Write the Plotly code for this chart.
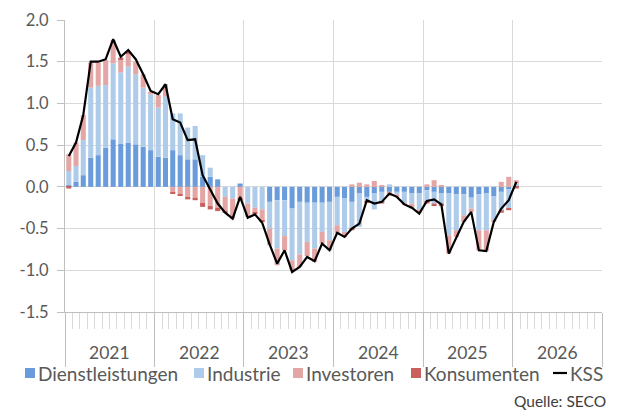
import plotly.graph_objects as go

# ---------------- data ----------------
months = [f"{y}-{m:02d}" for y in range(2021, 2026) for m in range(1, 13)] + ["2026-01"]

dienstleistungen = [
    0.02, 0.06, 0.14, 0.35, 0.38, 0.47, 0.57, 0.52, 0.53, 0.51, 0.48, 0.44,
    0.36, 0.35, 0.44, 0.38, 0.33, 0.33, 0.12, 0.12, 0.09, 0.00, 0.00, 0.04,
    0.00, 0.00, 0.00, -0.18, -0.16, -0.16, -0.26, -0.18, -0.19, -0.19, -0.19, -0.18,
    -0.12, -0.14, -0.18, -0.08, -0.12, -0.08, -0.06, -0.06, -0.06, -0.06, -0.08, -0.08,
    -0.04, -0.06, -0.08, -0.08, -0.09, -0.09, -0.13, -0.09, -0.08, -0.11, -0.06, -0.03,
    0.01,
]
industrie = [
    0.17, 0.19, 0.42, 0.84, 0.83, 0.75, 0.91, 0.85, 0.91, 0.84, 0.71, 0.67,
    0.59, 0.73, 0.44, 0.50, 0.38, 0.40, 0.26, 0.11, 0.00, -0.12, -0.14, 0.00,
    -0.20, -0.25, -0.27, -0.32, -0.58, -0.43, -0.62, -0.63, -0.47, -0.55, -0.35, -0.46,
    -0.34, -0.40, -0.32, -0.40, -0.05, -0.19, -0.12, 0.03, -0.03, -0.14, -0.12, -0.19,
    -0.14, -0.14, -0.12, -0.50, -0.43, -0.25, -0.13, -0.43, -0.44, -0.29, -0.22, -0.23,
    0.03,
]
investoren = [
    0.20, 0.28, 0.30, 0.30, 0.28, 0.30, 0.28, 0.15, 0.16, 0.15, 0.16, 0.03,
    0.15, 0.15, -0.07, -0.09, -0.12, -0.13, -0.19, -0.23, -0.25, -0.17, -0.24, -0.14,
    -0.16, -0.06, -0.13, -0.20, -0.20, -0.17, -0.12, -0.15, -0.17, -0.16, -0.14, -0.12,
    -0.10, -0.06, 0.03, 0.05, 0.03, 0.07, 0.02, -0.05, -0.03, -0.01, -0.06, -0.04,
    0.03, 0.08, 0.02, -0.22, -0.08, -0.08, -0.04, -0.24, -0.25, -0.02, 0.06, 0.12,
    0.04,
]
konsumenten = [
    -0.02, 0.00, 0.00, 0.00, 0.00, 0.00, 0.00, 0.03, 0.02, 0.00, 0.00, 0.00,
    0.00, 0.00, -0.01, -0.02, -0.03, -0.03, -0.05, -0.04, -0.04, -0.02, 0.00, -0.02,
    0.00, -0.01, -0.01, 0.00, 0.00, 0.00, 0.00, 0.00, 0.00, 0.00, 0.00, 0.00,
    0.00, 0.00, -0.02, 0.00, -0.02, 0.00, -0.02, 0.00, 0.00, 0.00, 0.00, 0.00,
    -0.02, -0.03, -0.03, 0.00, 0.00, 0.00, 0.00, 0.00, 0.00, 0.00, -0.03, -0.02,
    -0.02,
]
kss = [
    0.37, 0.53, 0.86, 1.50, 1.50, 1.53, 1.77, 1.56, 1.64, 1.53, 1.35, 1.15,
    1.11, 1.23, 0.81, 0.77, 0.56, 0.57, 0.14, -0.04, -0.20, -0.31, -0.38, -0.12,
    -0.37, -0.33, -0.43, -0.69, -0.92, -0.76, -1.02, -0.96, -0.84, -0.89, -0.68, -0.76,
    -0.55, -0.60, -0.50, -0.44, -0.16, -0.20, -0.18, -0.08, -0.12, -0.21, -0.25, -0.32,
    -0.17, -0.15, -0.21, -0.80, -0.60, -0.42, -0.30, -0.76, -0.77, -0.42, -0.26, -0.16,
    0.06,
]
year_labels = ["2021", "2022", "2023", "2024", "2025", "2026"]
y_ticks = [2.0, 1.5, 1.0, 0.5, 0.0, -0.5, -1.0, -1.5]

# ---------------- styling ----------------
FONT = "Lato"
TXT = "#595959"
GRID = "#d9d9d9"
colors = {
    "Dienstleistungen": "#6A9CDB",
    "Industrie": "#AFCBEA",
    "Investoren": "#E4A6A5",
    "Konsumenten": "#C8605D",
}
OFF = 8                      # page body margin offset
W, H = 625, 412
ML, MT = 65 - OFF, 20 - OFF  # plot area: x 65..602, y 20..312 on the page
PW, PH = 537, 292
MR = W - ML - PW
MB = H - MT - PH


def px(xp):
    return (xp - OFF - ML) / PW


def py(yp):
    return (MT + PH - (yp - OFF)) / PH


fig = go.Figure()
series = [
    ("Dienstleistungen", dienstleistungen),
    ("Industrie", industrie),
    ("Investoren", investoren),
    ("Konsumenten", konsumenten),
]
for name, vals in series:
    fig.add_trace(go.Bar(
        x=months, y=vals, name=name, marker_color=colors[name],
        marker_line_width=0, xperiod="M1", xperiodalignment="middle",
        showlegend=False,
    ))
fig.add_trace(go.Scatter(
    x=months, y=kss, name="KSS", mode="lines",
    line=dict(color="black", width=2.2),
    xperiod="M1", xperiodalignment="middle", showlegend=False,
))

fig.update_layout(
    width=W, height=H,
    margin=dict(l=ML, r=MR, t=MT, b=MB, autoexpand=False),
    paper_bgcolor="white", plot_bgcolor="white",
    barmode="relative", bargap=0.3,
    font=dict(family=FONT, size=16, color=TXT),
)
fig.update_xaxes(
    type="date", automargin=False,
    range=["2021-01-01", "2027-01-01"],
    tick0="2021-01-01", dtick="M12",
    ticks="outside", ticklen=54, tickcolor="#bfbfbf", tickwidth=1,
    showticklabels=False,
    showgrid=True, gridcolor=GRID, gridwidth=1,
    showline=True, linecolor="#bfbfbf", linewidth=1,
    minor=dict(dtick="M1", tick0="2021-01-01", ticks="outside", ticklen=16,
               tickcolor="#d9d9d9", tickwidth=1, showgrid=False),
    zeroline=False,
)
fig.update_yaxes(
    range=[-1.5, 2.0], automargin=False,
    tickvals=y_ticks, ticktext=[f"{v:.1f}" for v in y_ticks],
    ticks="outside", ticklen=7, tickcolor="#bfbfbf",
    showgrid=True, gridcolor=GRID, gridwidth=1,
    zeroline=True, zerolinecolor=GRID, zerolinewidth=1,
    showline=True, linecolor="#bfbfbf", linewidth=1,
    tickfont=dict(size=16.5, color=TXT), ticklabelstandoff=5,
)

annotations = []
for yl in year_labels:
    annotations.append(dict(
        x=f"{yl}-07-02", xref="x", y=py(352), yref="paper",
        text=yl, showarrow=False, xanchor="center", yanchor="middle",
        font=dict(size=17.5, color=TXT, family=FONT),
    ))

# manual legend
shapes = []
leg_y = 373
legend_items = [
    ("Dienstleistungen", 25, "bar"),
    ("Industrie", 194, "bar"),
    ("Investoren", 293, "bar"),
    ("Konsumenten", 411, "bar"),
    ("KSS", 553, "line"),
]
for name, x0, kind in legend_items:
    if kind == "bar":
        shapes.append(dict(type="rect", xref="paper", yref="paper",
                           x0=px(x0), x1=px(x0 + 10), y0=py(leg_y + 5), y1=py(leg_y - 5),
                           fillcolor=colors[name], line=dict(width=0)))
        tx = x0 + 11
    else:
        shapes.append(dict(type="line", xref="paper", yref="paper",
                           x0=px(x0), x1=px(x0 + 14), y0=py(leg_y), y1=py(leg_y),
                           line=dict(color="black", width=2.2)))
        tx = x0 + 15
    annotations.append(dict(
        x=px(tx), xref="paper", y=py(leg_y), yref="paper", text=name,
        showarrow=False, xanchor="left", yanchor="middle",
        font=dict(size=19, color=TXT, family=FONT),
    ))

annotations.append(dict(
    x=px(608), xref="paper", y=py(401), yref="paper", text="Quelle: SECO",
    showarrow=False, xanchor="right", yanchor="middle",
    font=dict(size=15.5, color="#404040", family=FONT),
))

fig.update_layout(annotations=annotations, shapes=shapes)
fig.write_html("out.html")
